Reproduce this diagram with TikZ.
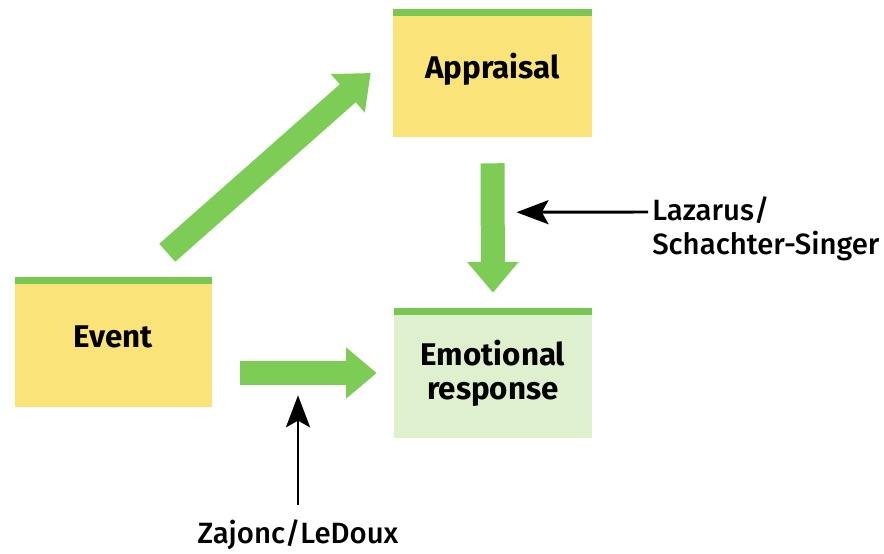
\documentclass[tikz,border=0pt]{standalone}
\usepackage{fontspec}
\setmainfont{Fira Sans}
\newfontfamily\labelfont{Fira Sans Medium}
\usepackage{tikz}
\usetikzlibrary{arrows.meta,calc}

\definecolor{boxyellow}{RGB}{250,228,122}
\definecolor{boxgreen}{RGB}{223,240,207}
\definecolor{stripegreen}{RGB}{122,198,82}
\definecolor{arrowgreen}{RGB}{124,204,86}

\tikzset{
  stagebox/.style={inner sep=0pt, align=center, font=\fontsize{23.5}{25.5}\selectfont\bfseries},
  oneline/.style={text height=16pt, text depth=8pt},
  fatarrow/.style={draw=arrowgreen, line width=18pt, -{Triangle[width=37pt,length=23pt]}},
  pointer/.style={draw=black, line width=2.2pt, -{Stealth[length=24pt,width=18pt,inset=5pt]}},
  sidelabel/.style={inner sep=0pt, align=left, font=\fontsize{22}{25.5}\selectfont\labelfont}
}

\begin{document}
\begin{tikzpicture}[x=0.75pt,y=0.75pt,yscale=-1]
\useasboundingbox (0,0) rectangle (884,553);

% Boxes
\node [stagebox, oneline, fill=boxyellow, minimum width=149.25pt, minimum height=96pt] (appraisal) at (492.5,73) {Appraisal};
\node [stagebox, oneline, fill=boxyellow, minimum width=147.75pt, minimum height=97.5pt] (event) at (113.5,342) {Event};
\node [stagebox, fill=boxgreen, minimum width=148.5pt, minimum height=97.5pt] (emotion) at (493,373) {Emotional\\response};

% Green top edges
\foreach \n in {appraisal,event,emotion}
  \fill [stripegreen] (\n.north west) rectangle ($(\n.north east)+(0,7)$);

% Labels
\node [sidelabel, anchor=north west] (lazarus) at (652,196) {Lazarus/\\Schachter-Singer};
\node [sidelabel] (zajonc) at (298,535) {Zajonc/LeDoux};

% Connection
\draw [fatarrow] ($(event.north east)+(-45,-24)$) -- ($(appraisal.west)+(-22,0)$);
% Connection
\draw [fatarrow] ($(appraisal.south)+(0,26)$) -- ($(emotion.north)+(0,-15)$);
% Connection
\draw [fatarrow] ($(event.east |- emotion.west)+(28,0)$) -- ($(emotion.west)+(-17,0)$);

% Pointers
\draw [pointer] ($(lazarus.north west)+(-4,16)$) -- ($(appraisal.south)+(24,75)$);
\draw [pointer] ($(zajonc.north)+(0,-15)$) -- ($(zajonc.north |- emotion.south)+(0,-43)$);

\end{tikzpicture}
\end{document}
